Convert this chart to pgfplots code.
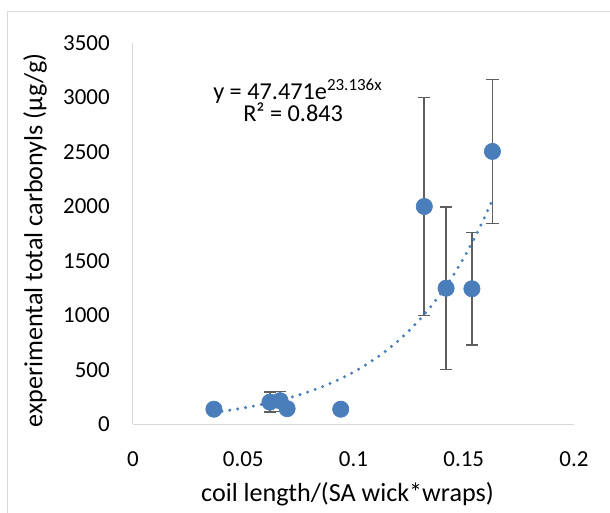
\documentclass[border=0pt]{standalone}
\usepackage{fontspec}
\setmainfont{Carlito}
\usepackage{pgfplots}
\usepackage{pgfplotstable}
\pgfplotsset{compat=1.18}
\definecolor{ptblue}{HTML}{4A7EBB}
\definecolor{errgray}{HTML}{5F5F5F}
\definecolor{axgray}{HTML}{D9D9D9}

\pgfplotstableread{
x y
0.0367 140
0.0621 205
0.0667 218
0.0699 145
0.0942 140
0.1321 2000
0.1420 1250
0.1537 1245
0.1630 2505
}\points

\pgfplotstableread{
x y ep em
0.0621 205 92 92
0.0667 218 85 100
0.1321 2000 1000 1000
0.1420 1250 745 745
0.1537 1245 517 517
0.1630 2505 660 660
}\errs

\pgfplotstableread{
x y
0.0367 111.0
0.045 134.5
0.050 150.95
0.055 169.5
0.060 190.25
0.065 213.6
0.070 239.8
0.075 269.2
0.080 302.2
0.085 339.3
0.090 380.8
0.095 427.5
0.100 479.9
0.105 538.9
0.110 604.9
0.115 679.1
0.120 762.4
0.125 855.9
0.130 960.9
0.135 1078.6
0.140 1211
0.145 1359.4
0.150 1526
0.155 1713.3
0.160 1923.6
0.16295 2059
}\trend

\begin{document}
\begin{tikzpicture}
\path[use as bounding box] (0,0) rectangle (457.5pt,384.75pt);
\draw[axgray, line width=0.75pt] (5.6pt,0) -- (5.6pt,375.75pt) -- (457.5pt,375.75pt);
\begin{axis}[
  at={(99.75pt,66.4pt)}, anchor=south west,
  scale only axis, width=330.75pt, height=286.1pt,
  xmin=0, xmax=0.2, ymin=0, ymax=3500,
  axis x line=bottom, axis y line=left,
  axis line style={-, draw=axgray, line width=0.75pt},
  xtick={0,0.05,0.1,0.15,0.2},
  xticklabels={0,0.05,0.1,0.15,0.2},
  ytick={0,500,1000,1500,2000,2500,3000,3500},
  yticklabels={0,500,1000,1500,2000,2500,3000,3500},
  major tick length=0pt,
  tick label style={font=\fontsize{17.2pt}{20pt}\selectfont, inner sep=0pt},
  xticklabel style={anchor=center, yshift=-25.7pt},
  yticklabel style={anchor=east, xshift=-17.25pt},
  xlabel={coil length/(SA wick*wraps)},
  ylabel={experimental total carbonyls (µg/g)},
  label style={font=\fontsize{19.6pt}{22pt}\selectfont},
  xlabel style={at={(axis description cs:0.4864,-0.183)}, anchor=center},
  ylabel style={at={(axis description cs:-0.222,0.482)}, anchor=center, rotate=0},
  clip=false,
]
\addplot[draw=none, mark=none,
  error bars/.cd, y dir=both, y explicit,
  error bar style={draw=errgray, line width=1.3pt},
  error mark options={draw=errgray, line width=1.3pt, mark size=4.6pt, rotate=90}]
  table[x=x, y=y, y error plus=ep, y error minus=em] {\errs};
\addplot[only marks, mark=*, mark size=6.1pt, mark options={fill=ptblue, draw=ptblue, line width=0.5pt}]
  table[x=x, y=y] {\points};
\addplot[ptblue, line width=2.5pt, line cap=round, dash pattern=on 0pt off 6pt, mark=none]
  table[x=x, y=y] {\trend};
\end{axis}
\node[anchor=base west, inner sep=0pt, font=\fontsize{18.2pt}{21pt}\selectfont] at (159.75pt,310.3pt) {y = 47.471e\textsuperscript{23.136x}};
\node[anchor=base west, inner sep=0pt, font=\fontsize{18.2pt}{21pt}\selectfont] at (182.25pt,293.25pt) {R² = 0.843};
\end{tikzpicture}
\end{document}
